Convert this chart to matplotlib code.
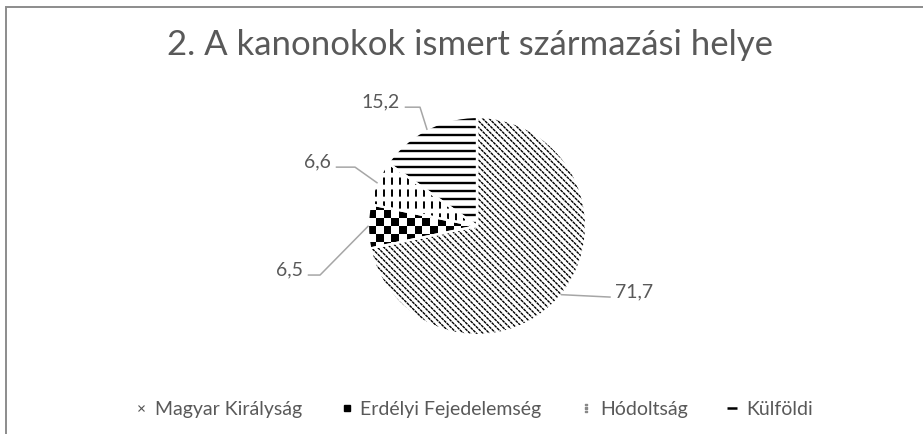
import numpy as np
import matplotlib.pyplot as plt
from matplotlib.collections import LineCollection
from matplotlib.patches import Wedge, Rectangle
from matplotlib.lines import Line2D

categories = ['Magyar Királyság', 'Erdélyi Fejedelemség', 'Hódoltság', 'Külföldi']
shares = [71.7, 6.5, 6.6, 15.2]
value_labels = ['71,7', '6,5', '6,6', '15,2']

# label layout in pie units (radius = 1): text anchor and leader elbow x
label_pos = [(1.27, -0.642), (-1.596, -0.44), (-1.339, 0.55), (-0.706, 1.10)]
elbow_x = [None, -1.44, -1.119, -0.523]

plt.rcParams['font.family'] = ['Lato', 'DejaVu Sans']
plt.rcParams['lines.scale_dashes'] = False

TEXT = '#595959'
W, H = 923, 435
cx, cy, r = 477, 227, 109

fig = plt.figure(figsize=(W / 100, H / 100), dpi=100)
ax = fig.add_axes([(cx - r) / W, 1 - (cy + r) / H, 2 * r / W, 2 * r / H])

wedges, _ = ax.pie(shares, startangle=90, counterclock=False,
                   colors=['white'] * len(shares), wedgeprops=dict(linewidth=0))


def add_lines(segs, wedge, lw, **kw):
    lc = LineCollection(segs, colors='black', linewidths=lw, zorder=2, **kw)
    ax.add_collection(lc)
    lc.set_clip_path(wedge)


px = 1 / r  # one pixel in pie units

# Magyar Királyság: dense downward diagonals
cs = np.arange(-2.6, 2.6, 6.5 * px)
add_lines([[(-1.3, c + 1.3), (1.3, c - 1.3)] for c in cs], wedges[0], 1.0,
          linestyles=[(0, (2.2, 0.5))])

# Erdélyi Fejedelemség: checkerboard
n = 28
board = np.indices((n, n)).sum(axis=0) % 2
im = ax.imshow(board, cmap='gray', extent=(-1, 1, -1, 1),
               interpolation='nearest', zorder=2)
im.set_clip_path(wedges[1])

# Hódoltság: dashed verticals
xs = np.arange(-1, 1, 8 * px)
add_lines([[(x, -1.05), (x, 1.05)] for x in xs], wedges[2], 1.4,
          linestyles=[(0, (5.2, 3.4))])

# Külföldi: thick horizontals
ys = np.arange(-1, 1.01, 8 * px)
add_lines([[(-1.1, y), (1.1, y)] for y in ys], wedges[3], 1.7)

# white separators between slices
for w in wedges:
    ax.add_patch(Wedge(w.center, w.r, w.theta1, w.theta2, fill=False,
                       edgecolor='white', linewidth=1.6, zorder=3))

# data labels with leader lines
for w, lab, (tx, ty), ex in zip(wedges, value_labels, label_pos, elbow_x):
    ang = np.deg2rad((w.theta1 + w.theta2) / 2)
    p0 = (np.cos(ang), np.sin(ang))
    ly = ty - 0.01
    right = tx > 0
    end_x = tx - 0.05 if right else tx + 0.05
    pts = [p0]
    if ex is not None:
        pts.append((ex, ly))
    pts.append((end_x, ly))
    pts = np.array(pts)
    ax.plot(pts[:, 0], pts[:, 1], color='#A6A6A6', lw=1.1, clip_on=False, zorder=4)
    ax.text(tx, ty, lab, ha='left' if right else 'right', va='baseline',
            fontsize=14, color=TEXT)

ax.set_xlim(-1, 1)
ax.set_ylim(-1, 1)
ax.axis('off')

fig.text(470 / W, 1 - 55 / H, '2. A kanonokok ismert származási helye',
         ha='center', va='baseline', fontsize=25, color=TEXT)

handles = [
    Line2D([], [], marker='x', color='#555555', markersize=5, mew=0.8, ls='none'),
    Line2D([], [], marker='s', color='black', markersize=5, ls='none'),
    Line2D([], [], marker='$\\vdots$', color='#888888', markersize=6, ls='none'),
    Line2D([], [], marker='_', color='black', markersize=7, mew=1.8, ls='none'),
]
fig.legend(handles, categories, loc='center', bbox_to_anchor=(474 / W, 1 - 410 / H),
           ncol=4, frameon=False, fontsize=14, handlelength=0.6,
           handletextpad=0.4, columnspacing=2.0, labelcolor=TEXT)

# chart frame (right and bottom edges lie outside the crop)
fig.patches.append(Rectangle((6 / W, -0.1), 1.0, 1.1 - 8 / H, transform=fig.transFigure,
                             fill=False, edgecolor='#8C8C8C', linewidth=1.4))

fig.savefig('out.png', dpi=100)
